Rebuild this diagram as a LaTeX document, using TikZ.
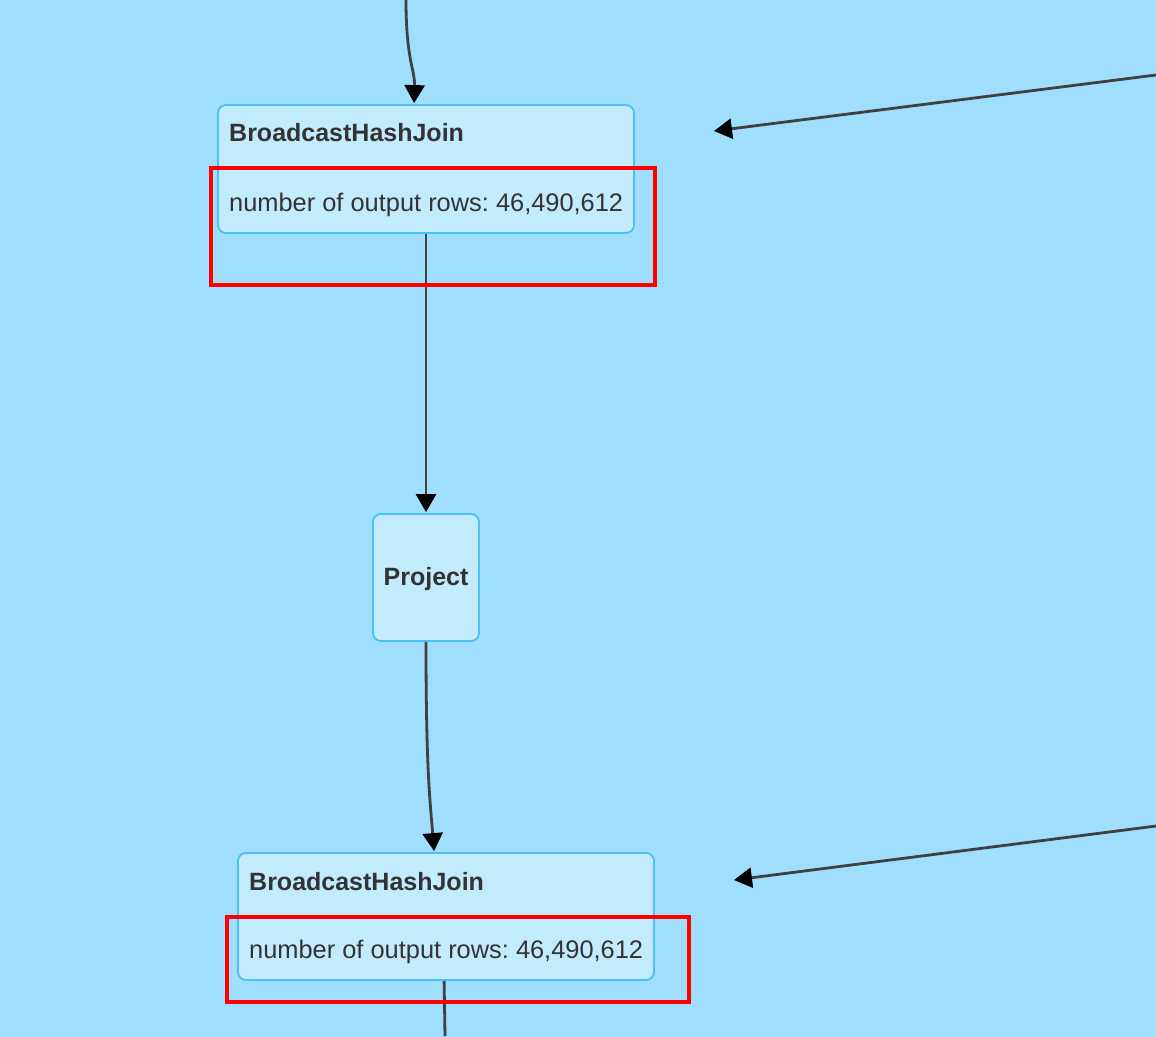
\documentclass[tikz,border=0pt]{standalone}
\usepackage{fontspec}
\setmainfont{Liberation Sans}
\usetikzlibrary{arrows.meta,calc}
\definecolor{bgblue}{RGB}{160,222,253}
\definecolor{boxfill}{RGB}{195,235,254}
\definecolor{boxline}{RGB}{76,192,245}
\definecolor{edgegray}{RGB}{64,64,64}
\definecolor{txtgray}{RGB}{51,51,51}
\definecolor{hlred}{RGB}{255,0,0}
\begin{document}
\frenchspacing
\begin{tikzpicture}[x=1pt,y=-1pt,
  opbox/.style={draw=boxline, fill=boxfill, line width=1.8pt, rounded corners=8pt, inner sep=0pt},
  titletext/.style={font=\fontsize{25}{29}\selectfont\bfseries, text=txtgray, inner sep=0pt, anchor=west},
  bodytext/.style={font=\fontsize{25.4}{29}\selectfont, text=txtgray, inner sep=0pt, anchor=west},
  flow/.style={draw=edgegray, line width=2.8pt, -{Triangle[length=18pt,width=20pt,color=black]}},
  plain/.style={draw=edgegray, line width=2.8pt},
  hlbox/.style={draw=hlred, line width=3.4pt}]
\useasboundingbox (0,0) rectangle (1156,1036);
\fill[bgblue] (-10,-10) rectangle (1166,1046);

% nodes
\node[opbox, minimum width=416pt, minimum height=128pt] (n1) at (426,169) {};
\node[titletext] (n1title) at (229,133) {BroadcastHashJoin};
\node[bodytext] (n1body) at (229,205) {number of output rows: 46,490,612};

\node[opbox, minimum width=106pt, minimum height=127pt] (proj) at (426,577.5) {};
\node[titletext, anchor=center] (projtitle) at (426,579) {Project};

\node[opbox, minimum width=416pt, minimum height=127pt] (n2) at (446,916.5) {};
\node[titletext] (n2title) at (249,882) {BroadcastHashJoin};
\node[bodytext] (n2body) at (249,952) {number of output rows: 46,490,612};

% free ends
\coordinate (topin) at (406,0);
\coordinate (r1start) at (1156,75);
\coordinate (r1end) at (714,131);
\coordinate (r2start) at (1156,826);
\coordinate (r2end) at (734,880);
\coordinate (botout) at (445,1036);

% connectors
\draw[flow] (topin) .. controls (406,60) and (415,70) .. ($(n1.north west)+(197,-1)$);
\draw[flow] (n1.south) -- ($(proj.north)+(0,-1)$);
\draw[flow] (proj.south) .. controls (426,770) and (430,800) .. ($(n2.north west)+(197,-1)$);
\draw[plain] ($(n2.south west)+(207,0)$) -- (botout);
\draw[flow] (r1start) -- (r1end);
\draw[flow] (r2start) -- (r2end);

% highlight rectangles
\draw[hlbox] (211,168) rectangle (655,285);
\draw[hlbox] (227,917) rectangle (689,1002);
\end{tikzpicture}
\end{document}
